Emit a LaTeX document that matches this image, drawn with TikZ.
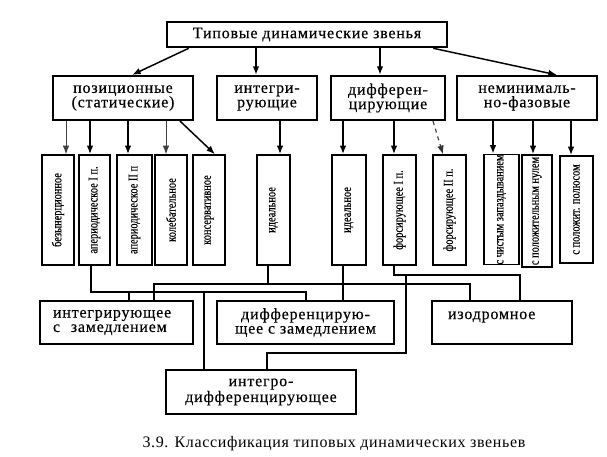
\documentclass[tikz,border=0pt]{standalone}
\usepackage{fontspec}
\usepackage{graphicx}
\setmainfont{Liberation Serif}
\newfontfamily\boxfamily{Liberation Serif}[FakeBold=0.4]
\newfontfamily\vertfont{Liberation Serif}[FakeStretch=0.78,FakeBold=0.4]
\usetikzlibrary{arrows.meta,positioning}
\newdimen\pxu \pxu=0.75pt
\newcommand\boxfont{\boxfamily\fontsize{12}{10.8}\selectfont\addfontfeature{LetterSpace=5}}
\tikzset{
  topbox/.style={draw, line width=1.9pt, inner sep=0pt, align=center,
    minimum height=25\pxu, font=\boxfont},
  groupbox/.style={draw, line width=1.6pt, inner sep=0pt, align=center,
    minimum height=44\pxu, font=\boxfont},
  leafbox/.style={draw, line width=1.1pt, inner sep=0pt,
    minimum height=110\pxu, font=\vertfont\fontsize{10}{11}\selectfont},
  combobox/.style={draw, line width=1.9pt, inner sep=0pt,
    minimum height=43\pxu, font=\boxfont},
  arr/.style={-{Latex[length=6.5pt,width=5pt]}, line width=1.5pt},
  thinarr/.style={-{Latex[length=6.5pt,width=5pt]}, line width=0.7pt, black!75},
  slantarr/.style={-{Latex[length=6.5pt,width=5pt]}, line width=1.1pt},
  dasharr/.style={-{Latex[length=6.5pt,width=5pt]}, line width=0.8pt, dashed, black!80},
  wire/.style={line width=1.5pt}
}

\begin{document}
\begin{tikzpicture}[x=0.75pt,y=-0.75pt]
  \useasboundingbox (0,0) rectangle (607,457);
  % root and groups
  \node[topbox,minimum width=280\pxu] (root) at (307,34.5) {Типовые динамические звенья};
  \node[groupbox,minimum width=140\pxu] (pos) at (123,98) {позиционные\\(статические)};
  \node[groupbox,minimum width=100\pxu] (integ) at (267,98) {интегри-\\рующие};
  \node[groupbox,minimum width=114\pxu] (diff) at (388,98) {дифферен-\\цирующие};
  \node[groupbox,minimum width=140\pxu] (nonmin) at (527,98) {неминималь-\\но-фазовые};

  % elementary links
  \node[leafbox,minimum width=32\pxu] (bez) at (58,210) {\rotatebox{90}{безынерционное}};
  \node[leafbox,minimum width=31\pxu] (aperI) at (94.5,210) {\rotatebox{90}{апериодическое I п.}};
  \node[leafbox,minimum width=35\pxu] (aperII) at (134.5,210) {\rotatebox{90}{апериодическое II п}};
  \node[leafbox,minimum width=32\pxu] (koleb) at (171,210) {\rotatebox{90}{колебательное}};
  \node[leafbox,minimum width=32\pxu] (kons) at (209,210) {\rotatebox{90}{консервативное}};
  \node[leafbox,minimum width=33\pxu] (idealI) at (273.5,210) {\rotatebox{90}{идеальное}};
  \node[leafbox,minimum width=34\pxu] (idealD) at (349,210) {\rotatebox{90}{идеальное}};
  \node[leafbox,minimum width=33\pxu] (forsI) at (399.5,210) {\rotatebox{90}{форсирующее I п.}};
  \node[leafbox,minimum width=33\pxu] (forsII) at (449.5,210) {\rotatebox{90}{форсирующее II п.}};
  \node[leafbox,minimum width=35\pxu,minimum height=109\pxu] (delay) at (501.5,209.5) {\rotatebox{90}{с чистым запаздыванием}};
  \node[leafbox,minimum width=30\pxu,minimum height=112\pxu] (poszero) at (537,211) {\rotatebox{90}{с положительным нулем}};
  \node[leafbox,minimum width=33\pxu,minimum height=107\pxu] (pospole) at (576.5,209.5) {\rotatebox{90}{с положит. полюсом}};

  % combined links
  \node[combobox,minimum width=153\pxu,text width=127\pxu,align=left] (intlag) at (116.5,322.5) {интегрирующее\\с\ \ замедлением};
  \node[combobox,minimum width=177\pxu,align=center] (difflag) at (305.5,322.5) {дифференцирую-\\щее с замедлением};
  \node[combobox,minimum width=140\pxu,text width=108\pxu,align=left] (isodrom) at (502,322.5) {изодромное\\~};
  \node[combobox,minimum width=190\pxu,minimum height=44\pxu,align=center] (intdiff) at (261,392) {интегро-\\дифференцирующее};

  \node[font=\fontsize{12}{13}\selectfont\addfontfeature{LetterSpace=4}] (caption) at (334,444) {3.9. Классификация типовых динамических звеньев};

  % root -> groups
  \draw[slantarr] ([shift={(23,0)}]root.south west) -- ([shift={(9,0)}]pos.north);
  \draw[arr] ([shift={(-11,0)}]integ.north |- root.south) -- ([shift={(-11,0)}]integ.north);
  \draw[arr] ([shift={(-8,0)}]diff.north |- root.south) -- ([shift={(-8,0)}]diff.north);
  \draw[slantarr] ([shift={(-15,0)}]root.south east) -- ([shift={(30,0)}]nonmin.north);

  % groups -> elementary links
  \draw[thinarr] ([shift={(8,0)}]bez.north |- pos.south) -- ([shift={(8,0)}]bez.north);
  \draw[arr] ([shift={(-4.5,0)}]aperI.north |- pos.south) -- ([shift={(-4.5,0)}]aperI.north);
  \draw[arr] ([shift={(-6.5,0)}]aperII.north |- pos.south) -- ([shift={(-6.5,0)}]aperII.north);
  \draw[thinarr] ([shift={(-5,0)}]koleb.north |- pos.south) -- ([shift={(-5,0)}]koleb.north);
  \draw[slantarr] ([shift={(57,0)}]pos.south) -- ([shift={(6,0)}]kons.north);
  \draw[arr] ([shift={(6.5,0)}]idealI.north |- integ.south) -- ([shift={(6.5,0)}]idealI.north);
  \draw[arr] ([shift={(-6,0)}]idealD.north |- diff.south) -- ([shift={(-6,0)}]idealD.north);
  \draw[arr] ([shift={(-5.5,0)}]forsI.north |- diff.south) -- ([shift={(-5.5,0)}]forsI.north);
  \draw[dasharr] ([shift={(45,0)}]diff.south) -- ([shift={(-6.5,0)}]forsII.north);
  \draw[arr] ([shift={(-8.5,0)}]delay.north |- nonmin.south) -- ([shift={(-8.5,0)}]delay.north);
  \draw[arr] ([shift={(-4,0)}]poszero.north |- nonmin.south) -- ([shift={(-4,0)}]poszero.north);
  \draw[arr] ([shift={(-5.5,0)}]pospole.north |- nonmin.south) -- ([shift={(-5.5,0)}]pospole.north);

  % wiring to combined links
  \coordinate (busA) at (0,292);
  \coordinate (busB) at (0,283.5);
  \coordinate (busC) at (0,275);
  \coordinate (busD) at (0,353);
  \draw[wire] ([shift={(-3.5,0)}]aperI.south) |- (busA -| difflag.north) -- (difflag.north);
  \draw[wire] ([shift={(12.5,0)}]intlag.north) -- ([shift={(12.5,0)}]intlag.north |- busA);
  \draw[wire] ([shift={(-57,0)}]intdiff.north) -- ([shift={(-57,0)}]intdiff.north |- busA);
  \draw[wire] ([shift={(-5.5,0)}]idealI.south) -- ([shift={(-5.5,0)}]idealI.south |- busB);
  \draw[wire] ([shift={(37.5,0)}]intlag.north) |- ([shift={(-32,0)}]isodrom.north |- busB) -- ([shift={(-32,0)}]isodrom.north);
  \draw[wire] ([shift={(-6,0)}]idealD.south) -- ([shift={(-6,0)}]idealD.south |- difflag.north);
  \draw[wire] ([shift={(-5.5,0)}]forsI.south) |- ([shift={(18,0)}]isodrom.north |- busC) -- ([shift={(18,0)}]isodrom.north);
  \draw[wire] ([shift={(6.5,0)}]forsI.south |- busC) |- ([shift={(6,0)}]intdiff.north |- busD) -- ([shift={(6,0)}]intdiff.north);
\end{tikzpicture}
\end{document}
